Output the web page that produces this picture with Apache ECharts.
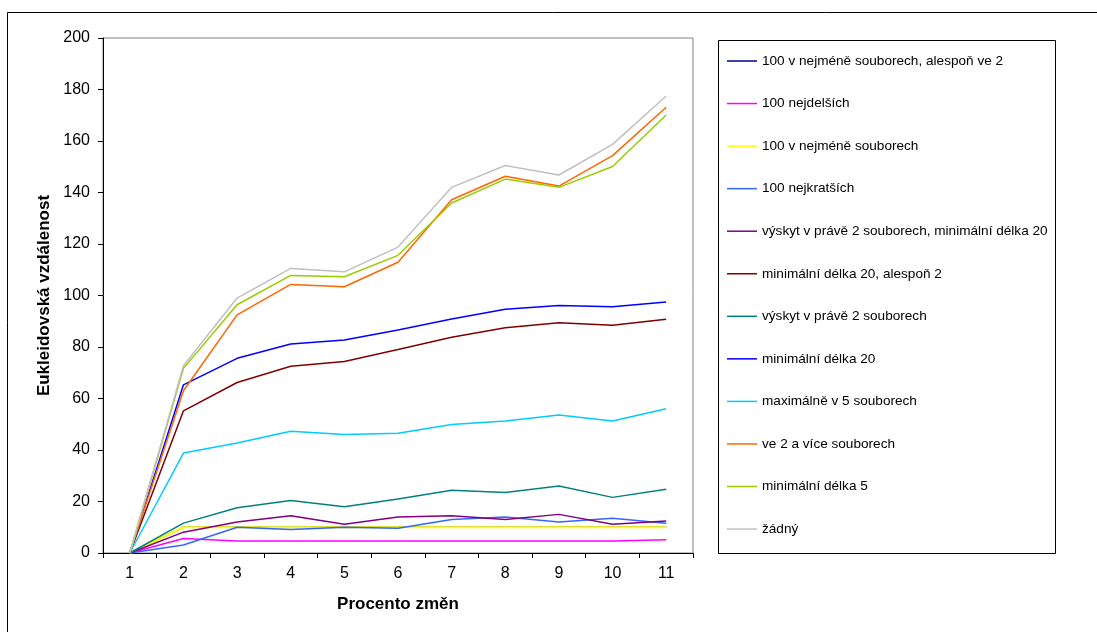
<!DOCTYPE html>
<html>
<head>
<meta charset="utf-8">
<script src="https://cdn.jsdelivr.net/npm/echarts@6/dist/echarts.min.js"></script>
<style>
html,body{margin:0;padding:0;background:#fff;}
#chart{width:1097px;height:632px;}
</style>
</head>
<body>
<div id="chart"></div>
<script>
const categories = ['1','2','3','4','5','6','7','8','9','10','11'];

const seriesNames = [
  '100 v nejméně souborech, alespoň ve 2',
  '100 nejdelších',
  '100 v nejméně souborech',
  '100 nejkratších',
  'výskyt v právě 2 souborech, minimální délka 20',
  'minimální délka 20, alespoň 2',
  'výskyt v právě 2 souborech',
  'minimální délka 20',
  'maximálně v 5 souborech',
  've 2 a více souborech',
  'minimální délka 5',
  'žádný'
];
const seriesColors = ['#000080','#FF00FF','#FFFF00','#3366FF','#800080','#800000','#008080','#0000FF','#00CCFF','#FF6600','#99CC00','#C0C0C0'];

const s100NejmeneAlesponVe2 = [0, 10, 10, 10, 10, 10, 10, 10, 10, 10, 10];
const s100Nejdelsich        = [0, 5.6, 4.7, 4.7, 4.7, 4.7, 4.7, 4.7, 4.7, 4.7, 5.1];
const s100Nejmene           = [0, 10, 10, 10, 10, 10, 10, 10, 10, 10, 10];
const s100Nejkratsich       = [0, 3.1, 10, 9.1, 10, 9.6, 13, 14, 12, 13.5, 11.6];
const sPrave2Min20          = [0, 8.1, 12, 14.5, 11.2, 14, 14.5, 13, 15, 11.2, 12.4];
const sMin20Alespon2        = [0, 55.2, 66.2, 72.5, 74.4, 79, 83.8, 87.5, 89.4, 88.4, 90.8];
const sPrave2               = [0, 11.6, 17.6, 20.4, 18, 21, 24.4, 23.5, 26, 21.6, 24.8];
const sMin20                = [0, 65.3, 75.6, 81.2, 82.7, 86.6, 90.9, 94.7, 96.1, 95.6, 97.5];
const sMax5                 = [0, 38.8, 42.7, 47.3, 46, 46.5, 49.9, 51.3, 53.6, 51.3, 56];
const sVe2Vice              = [0, 63, 92.5, 104.3, 103.4, 112.9, 137.2, 146.3, 142.5, 154.3, 173.1];
const sMin5                 = [0, 71.7, 96.4, 107.8, 107.3, 115.6, 135.9, 145.2, 142, 150.1, 170.1];
const sZadny                = [0, 72.7, 99, 110.5, 109.2, 118.8, 142, 150.5, 146.8, 158.7, 177.5];

const allData = [s100NejmeneAlesponVe2, s100Nejdelsich, s100Nejmene, s100Nejkratsich, sPrave2Min20,
  sMin20Alespon2, sPrave2, sMin20, sMax5, sVe2Vice, sMin5, sZadny];

const yTicks = {min: 0, max: 200, interval: 20};

const font = 'Liberation Sans, Arial, sans-serif';
const chart = echarts.init(document.getElementById('chart'), null, {renderer: 'canvas'});

chart.setOption({
  animation: false,
  backgroundColor: '#fff',
  grid: {left: 103, top: 38, width: 590, height: 515, show: true, borderColor: '#808080', borderWidth: 1, backgroundColor: 'transparent'},
  graphic: [
    {type: 'rect', shape: {x: 7.5, y: 12.5, width: 1200, height: 700}, style: {fill: 'none', stroke: '#000', lineWidth: 1}, z: -1},
    {type: 'rect', shape: {x: 718.5, y: 40.5, width: 337, height: 513}, style: {fill: '#fff', stroke: '#000', lineWidth: 1}, z: 0}
  ],
  legend: {
    orient: 'vertical',
    left: 727,
    top: 54,
    icon: 'rect',
    itemWidth: 30,
    itemHeight: 1.5,
    itemGap: 28.55,
    textStyle: {fontFamily: font, fontSize: 13.6, color: '#000', lineHeight: 14, padding: [0,0,0,0]},
    padding: 0,
    data: seriesNames,
    z: 5
  },
  xAxis: {
    type: 'category',
    data: categories,
    boundaryGap: true,
    axisLine: {lineStyle: {color: '#000', width: 1}},
    axisTick: {show: true, inside: false, length: 5, alignWithLabel: false, lineStyle: {color: '#000'}},
    axisLabel: {fontFamily: font, fontSize: 16, color: '#000', margin: 13},
    name: 'Procento změn',
    nameLocation: 'middle',
    nameGap: 43,
    nameTextStyle: {fontFamily: font, fontSize: 17, fontWeight: 'bold', color: '#000'},
    splitLine: {show: false}
  },
  yAxis: {
    type: 'value',
    min: yTicks.min,
    max: yTicks.max,
    interval: yTicks.interval,
    axisLine: {show: true, lineStyle: {color: '#000', width: 1}},
    axisTick: {show: true, inside: false, length: 5, lineStyle: {color: '#000'}},
    axisLabel: {fontFamily: font, fontSize: 16, color: '#000', margin: 13},
    splitLine: {show: false},
    name: 'Eukleidovská vzdálenost',
    nameLocation: 'middle',
    nameGap: 50,
    nameRotate: 90,
    nameTextStyle: {fontFamily: font, fontSize: 17, fontWeight: 'bold', color: '#000'}
  },
  series: seriesNames.map((n, i) => ({
    name: n,
    type: 'line',
    data: allData[i],
    color: seriesColors[i],
    showSymbol: false,
    symbol: 'none',
    lineStyle: {width: i === 2 ? 2.2 : 1.5, color: seriesColors[i]},
    itemStyle: {color: seriesColors[i]},
    emphasis: {disabled: true},
    z: 2 + i
  }))
});
</script>
</body>
</html>
